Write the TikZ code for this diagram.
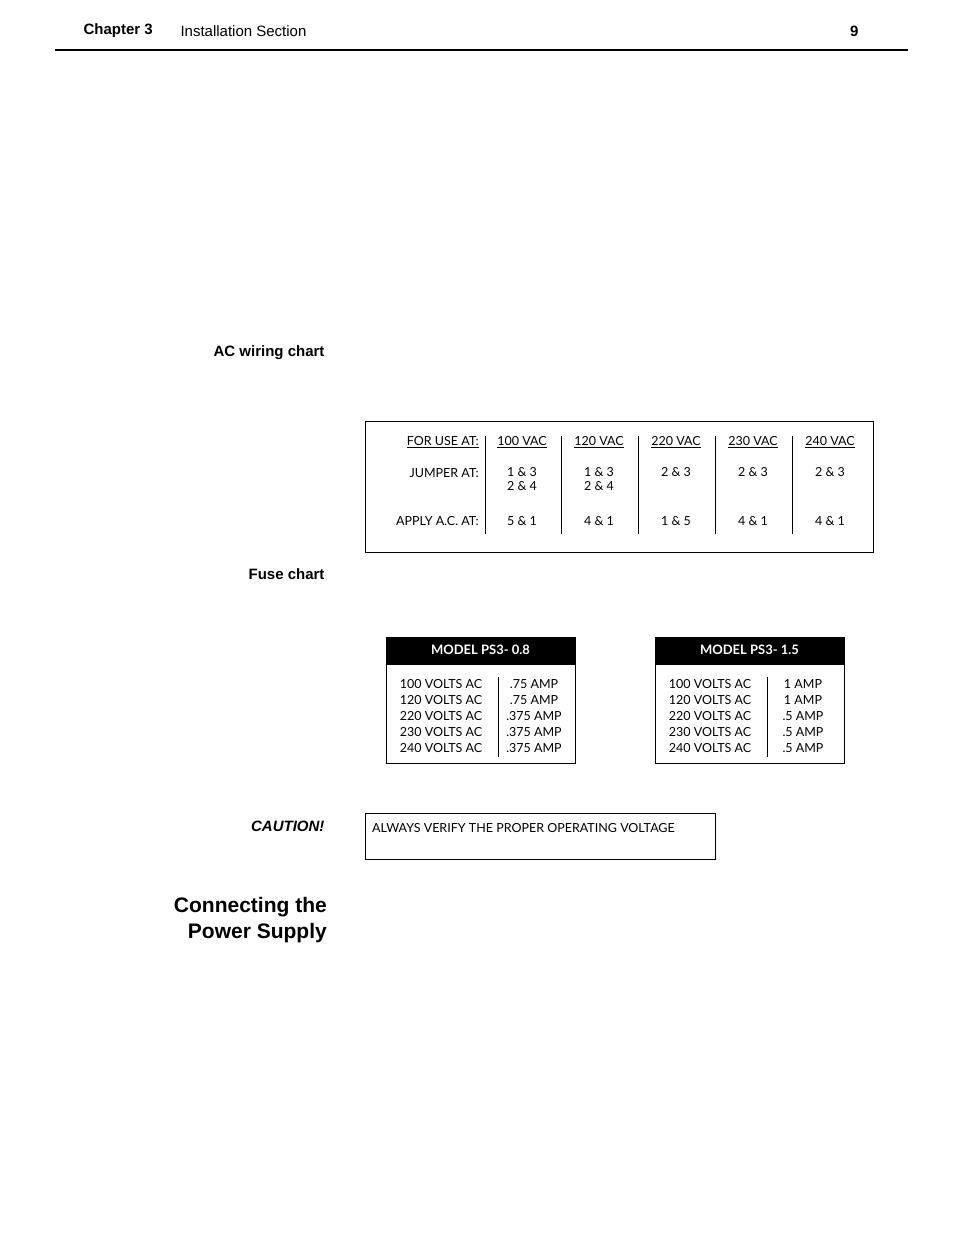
\documentclass[tikz,border=0pt]{standalone}
\usepackage{fontspec}
\setmainfont{Liberation Sans}
\newfontfamily\tabfont{Lato}
\begin{document}
\begin{tikzpicture}[x=1pt,y=-1pt]
    \tikzset{head/.style = {font=\fontsize{15}{17}\selectfont\bfseries, anchor=east}}
    \tikzset{cell/.style = {font=\tabfont\fontsize{12.5}{14}\selectfont, inner sep=0pt}}
    \tikzset{frame/.style = {draw, line width=0.8pt}}
    \useasboundingbox (0,0) rectangle (954,1235);
    % page header
    \node[font=\fontsize{15}{17}\selectfont\bfseries, anchor=west] (chap) at (80,31) {Chapter 3};
    \node[font=\fontsize{15}{17}\selectfont, anchor=west] (sect) at (177,31) {Installation Section};
    \node[font=\fontsize{15}{17}\selectfont\bfseries, anchor=east] (page) at (862,31) {9};
    \draw[line width=2.5pt] (55,50) -- (908,50);
    % AC wiring chart
    \node[head] (acl) at (328,353) {AC wiring chart};
    \draw[frame] (365,421) rectangle (873,552);
    \node[cell, anchor=east] (use) at (479,442) {\underline{FOR USE AT:}};
    \node[cell, anchor=east] (jmp) at (479,473) {JUMPER AT:};
    \node[cell, anchor=east] (apl) at (479,521) {APPLY A.C. AT:};
    \foreach \x in {485,561,638,715,792}
        \draw (\x,436) -- (\x,534);
    \foreach \x/\v/\j/\a in {522/100/{1 \& 3\\2 \& 4}/5 \& 1, 599/120/{1 \& 3\\2 \& 4}/4 \& 1,
        676/220/{2 \& 3}/1 \& 5, 753/230/{2 \& 3}/4 \& 1, 830/240/{2 \& 3}/4 \& 1} {
        \node[cell] (v\v) at (\x,442) {\underline{\v\ VAC}};
        \node[cell, anchor=north, align=center] (j\v) at (\x,467) {\j};
        \node[cell] (a\v) at (\x,521) {\a};
    }
    % fuse chart
    \node[head] (fcl) at (328,574) {Fuse chart};
    \foreach \bx/\dx/\m/\fa/\fb in {386/498/0.8/.75/.375, 655/767/1.5/1/.5} {
        \draw[frame] (\bx,637) rectangle ++(189,126);
        \fill (\bx,637) rectangle ++(189,28);
        \node[font=\tabfont\fontsize{13}{15}\selectfont\bfseries, text=white] (m\m) at (\bx+94.5,650) {MODEL PS3- \m};
        \draw (\dx,677) -- (\dx,757);
        \foreach \r/\v/\f in {0/100/\fa, 1/120/\fa, 2/220/\fb, 3/230/\fb, 4/240/\fb} {
            \node[cell] (l\m\r) at (\bx+55,684+16*\r) {\v\ VOLTS AC};
            \node[cell] (r\m\r) at (\dx+36,684+16*\r) {\f\ AMP};
        }
    }
    % caution
    \node[font=\fontsize{15}{17}\selectfont\bfseries\itshape, anchor=east] (cau) at (328,826) {CAUTION!};
    \draw[frame] (365,813) rectangle (715,859);
    \node[cell, anchor=west] (ver) at (372,828) {ALWAYS VERIFY THE PROPER OPERATING VOLTAGE};
    % section title
    \node[font=\fontsize{21}{26}\selectfont\bfseries, anchor=north east, align=right, inner sep=0pt] (ttl) at (327,897) {Connecting the\\Power Supply};
\end{tikzpicture}
\end{document}
